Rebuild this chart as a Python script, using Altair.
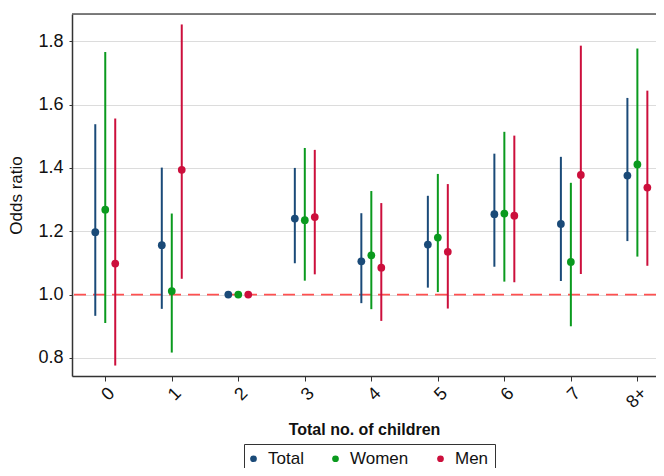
import altair as alt
import pandas as pd

categories = ["0", "1", "2", "3", "4", "5", "6", "7", "8+"]
groups = ["Total", "Women", "Men"]
colors = ["#1a4a78", "#0a9a1e", "#cc0f3c"]

or_total = [1.197, 1.156, 1.000, 1.240, 1.105, 1.158, 1.254, 1.223, 1.376]
lo_total = [0.933, 0.955, 1.000, 1.099, 0.973, 1.022, 1.088, 1.043, 1.169]
hi_total = [1.538, 1.401, 1.000, 1.400, 1.257, 1.312, 1.445, 1.435, 1.621]

or_women = [1.268, 1.011, 1.000, 1.235, 1.124, 1.180, 1.256, 1.103, 1.411]
lo_women = [0.910, 0.817, 1.000, 1.044, 0.954, 1.008, 1.041, 0.900, 1.120]
hi_women = [1.766, 1.256, 1.000, 1.463, 1.327, 1.381, 1.514, 1.353, 1.777]

or_men = [1.098, 1.394, 1.000, 1.245, 1.085, 1.135, 1.249, 1.378, 1.338]
lo_men = [0.776, 1.050, 1.000, 1.064, 0.917, 0.956, 1.039, 1.065, 1.091]
hi_men = [1.556, 1.853, 1.000, 1.457, 1.289, 1.349, 1.502, 1.786, 1.644]

dodge = {"Total": -0.15, "Women": 0.0, "Men": 0.15}

rows = []
for g, o, lo, hi in [("Total", or_total, lo_total, hi_total),
                     ("Women", or_women, lo_women, hi_women),
                     ("Men", or_men, lo_men, hi_men)]:
    for i, c in enumerate(categories):
        rows.append({"cat": c, "idx": i, "group": g, "pos": i + dodge[g],
                     "or": o[i], "lo": lo[i], "hi": hi[i]})
df = pd.DataFrame(rows)

FONT = "Liberation Sans"
W, H = 584, 362

label_expr = "[" + ",".join("'%s'" % c for c in categories) + "][datum.value]"

xscale = alt.Scale(domain=[-0.5, 8.28], nice=False, zero=False)
yscale = alt.Scale(domain=[0.743, 1.886], nice=False, zero=False)

color = alt.Color("group:N", scale=alt.Scale(domain=groups, range=colors),
                  legend=alt.Legend(title=None, orient="none", legendX=172, legendY=430,
                                    direction="horizontal", symbolType="circle",
                                    symbolSize=45, labelFontSize=17, labelFont=FONT,
                                    labelColor="#111", columnPadding=28,
                                    symbolOffset=-5, labelOffset=6,
                                    strokeColor="#333", padding=6,
                                    symbolStrokeWidth=0))

base = alt.Chart(df)

xenc = alt.X("pos:Q", scale=xscale,
             axis=alt.Axis(values=list(range(len(categories))), labelExpr=label_expr,
                           title="Total no. of children", titleFontWeight="bold",
                           titleFontSize=16, titleFont=FONT, titleColor="#111",
                           titlePadding=10, labelAngle=-45, labelFontSize=18,
                           labelFont=FONT, labelColor="#111", grid=False,
                           tickSize=5, tickColor="#333", domainColor="#333",
                           domainWidth=1.5, labelPadding=3))
yenc = alt.Y("or:Q", scale=yscale,
             axis=alt.Axis(values=[0.8, 1.0, 1.2, 1.4, 1.6, 1.8], format=".1f",
                           title="Odds ratio", titleFontSize=17, titleFont=FONT,
                           titleFontWeight="normal", titleColor="#111", titlePadding=12,
                           labelFontSize=18, labelFont=FONT, labelColor="#111",
                           gridColor="#dcdcdc", gridWidth=1, tickSize=3,
                           tickColor="#333", domainColor="#333", domainWidth=1.5,
                           labelPadding=6))

ref = alt.Chart(pd.DataFrame({"y": [1.0]})).mark_rule(
    color="#ff5050", strokeDash=[12, 7], strokeWidth=1.6
).encode(y=alt.Y("y:Q", scale=yscale))

topline = alt.Chart(pd.DataFrame({"y": [0]})).mark_rule(
    color="#555", strokeWidth=1.5
).encode(x=alt.value(0), x2=alt.value(W), y=alt.value(0))

bars = base.mark_rule(strokeWidth=2).encode(
    x=xenc, y=alt.Y("lo:Q", scale=yscale), y2="hi:Q", color=color
)
points = base.mark_circle(size=60, opacity=1).encode(x=xenc, y=yenc, color=color)

chart = alt.layer(ref, topline, bars, points).properties(
    width=W, height=H,
    autosize=alt.AutoSizeParams(type="none"),
    padding={"left": 64, "top": 6, "right": 0, "bottom": 92},
).configure_view(stroke=None).configure(background="white")

chart.save("out.html", embed_options={"renderer": "svg", "actions": False})
